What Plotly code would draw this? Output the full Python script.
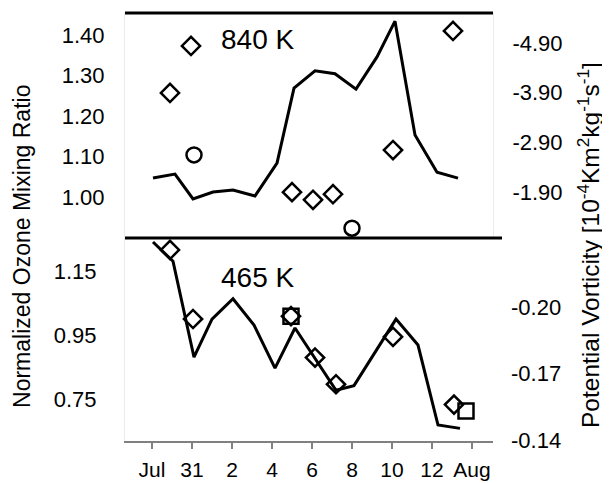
import plotly.graph_objects as go

# x positions are day numbers: Jul 29 = 29, Jul 31 = 31, Aug n = 31 + n
tick_vals = [29, 31, 33, 35, 37, 39, 41, 43, 45]
tick_text = ["Jul", "31", "2", "4", "6", "8", "10", "12", "Aug"]

# ---- 840 K panel ----
pv840_day = [29.05, 30.15, 31.05, 32.05, 33.05, 34.15, 35.25, 36.1, 37.15, 38.15, 39.2, 40.25, 41.15, 42.15, 43.25, 44.3]
pv840_val = [-2.18, -2.26, -1.76, -1.90, -1.94, -1.82, -2.48, -3.99, -4.34, -4.28, -3.97, -4.62, -5.34, -3.05, -2.30, -2.18]

oz840_dia_day = [29.9, 30.95, 36.0, 37.05, 38.05, 41.05, 44.05]
oz840_dia_val = [1.257, 1.373, 1.012, 0.993, 1.007, 1.116, 1.410]
oz840_cir_day = [31.1, 39.0]
oz840_cir_val = [1.104, 0.923]

# ---- 465 K panel ----
pv465_day = [29.05, 30.05, 31.1, 32.0, 33.05, 34.1, 35.15, 36.15, 38.2, 39.1, 41.2, 42.3, 43.3, 44.4]
pv465_val = [-0.2293, -0.2206, -0.1773, -0.1945, -0.2037, -0.1918, -0.1724, -0.1905, -0.1624, -0.1645, -0.1945, -0.1828, -0.1467, -0.1452]

oz465_dia_day = [29.9, 31.05, 35.95, 37.15, 38.2, 41.05, 44.1]
oz465_dia_val = [1.218, 1.001, 1.010, 0.880, 0.796, 0.945, 0.732]
oz465_sq_day = [35.95, 44.7]
oz465_sq_val = [1.010, 0.712]

top_left_ticks = [1.00, 1.10, 1.20, 1.30, 1.40]
top_right_ticks = [-4.90, -3.90, -2.90, -1.90]
bot_left_ticks = [0.75, 0.95, 1.15]
bot_right_ticks = [-0.20, -0.17, -0.14]

FONT = "Liberation Sans, Arial, sans-serif"
split = 0.4743

fig = go.Figure()
line_style = dict(color="black", width=3)
mk = dict(color="black", line=dict(color="black", width=2.5))

fig.add_trace(go.Scatter(x=pv840_day, y=pv840_val, mode="lines", line=line_style,
                         xaxis="x2", yaxis="y2", showlegend=False))
fig.add_trace(go.Scatter(x=oz840_dia_day, y=oz840_dia_val, mode="markers",
                         marker=dict(symbol="diamond-open", size=14, **mk),
                         xaxis="x2", yaxis="y", showlegend=False))
fig.add_trace(go.Scatter(x=oz840_cir_day, y=oz840_cir_val, mode="markers",
                         marker=dict(symbol="circle-open", size=15, **mk),
                         xaxis="x2", yaxis="y", showlegend=False))

fig.add_trace(go.Scatter(x=pv465_day, y=pv465_val, mode="lines", line=line_style,
                         xaxis="x", yaxis="y4", showlegend=False))
fig.add_trace(go.Scatter(x=oz465_dia_day, y=oz465_dia_val, mode="markers",
                         marker=dict(symbol="diamond-open", size=14, **mk),
                         xaxis="x", yaxis="y3", showlegend=False))
fig.add_trace(go.Scatter(x=oz465_sq_day, y=oz465_sq_val, mode="markers",
                         marker=dict(symbol="square-open", size=15, **mk),
                         xaxis="x", yaxis="y3", showlegend=False))

tickfont = dict(family=FONT, size=22, color="black")
faint = "#ececec"

fig.update_layout(
    width=610, height=483,
    margin=dict(l=117, r=125, t=5, b=50),
    paper_bgcolor="white", plot_bgcolor="white",
    font=dict(family=FONT, color="black"),
    xaxis=dict(domain=[0, 1], anchor="y3", range=[27.65, 46.05],
               tickvals=tick_vals, ticktext=tick_text,
               ticks="outside", ticklen=6, tickcolor="#808080", tickwidth=1.5,
               showline=True, linecolor="#808080", linewidth=1.5,
               showgrid=False, zeroline=False, ticklabelstandoff=3,
               tickfont=dict(family=FONT, size=21, color="black")),
    xaxis2=dict(domain=[0, 1], anchor="y", matches="x", range=[27.65, 46.05],
                visible=False),
    yaxis=dict(domain=[split, 1], anchor="x2", range=[0.8988, 1.4543],
               tickvals=top_left_ticks, ticktext=[f"{v:.2f}" for v in top_left_ticks],
               showgrid=False, zeroline=False, showline=True, linecolor=faint,
               ticks="", ticklabelstandoff=15, tickfont=tickfont),
    yaxis2=dict(overlaying="y", side="right", anchor="x2", range=[-0.974, -5.504],
                tickvals=top_right_ticks, ticktext=[f"{v:.2f}" for v in top_right_ticks],
                showgrid=False, zeroline=False, showline=True, linecolor=faint,
                ticks="", ticklabelstandoff=14, tickfont=tickfont),
    yaxis3=dict(domain=[0, split], anchor="x", range=[0.6177, 1.2555],
                tickvals=bot_left_ticks, ticktext=[f"{v:.2f}" for v in bot_left_ticks],
                showgrid=False, zeroline=False, showline=True, linecolor=faint,
                ticks="", ticklabelstandoff=23, tickfont=tickfont),
    yaxis4=dict(overlaying="y3", side="right", anchor="x", range=[-0.1395, -0.2311],
                tickvals=bot_right_ticks, ticktext=[f"{v:.2f}" for v in bot_right_ticks],
                showgrid=False, zeroline=False, showline=False,
                ticks="", ticklabelstandoff=17, tickfont=tickfont),
    shapes=[
        dict(type="line", xref="paper", yref="paper", x0=0, x1=1, y0=1, y1=1,
             line=dict(color="black", width=3)),
        dict(type="line", xref="paper", yref="paper", x0=0, x1=1.0245, y0=split, y1=split,
             line=dict(color="black", width=3)),
    ],
    annotations=[
        dict(text="840 K", xref="paper", yref="paper", x=0.3614, y=0.937,
             xanchor="center", yanchor="middle",
             showarrow=False, font=dict(family=FONT, size=28, color="black")),
        dict(text="465 K", xref="paper", yref="paper", x=0.3587, y=0.383,
             xanchor="center", yanchor="middle",
             showarrow=False, font=dict(family=FONT, size=28, color="black")),
        dict(text="Normalized Ozone Mixing Ratio", xref="paper", yref="paper",
             x=-0.280, y=0.4556, textangle=-90, showarrow=False,
             xanchor="center", yanchor="middle",
             font=dict(family=FONT, size=23, color="black")),
        dict(text="Potential Vorticity [10<sup>-4</sup>Km<sup>2</sup>kg<sup>-1</sup>s<sup>-1</sup>]",
             xref="paper", yref="paper", x=1.261, y=0.458, textangle=-90, showarrow=False,
             xanchor="center", yanchor="middle",
             font=dict(family=FONT, size=24.5, color="black")),
    ],
)

fig.write_html("out.html")
